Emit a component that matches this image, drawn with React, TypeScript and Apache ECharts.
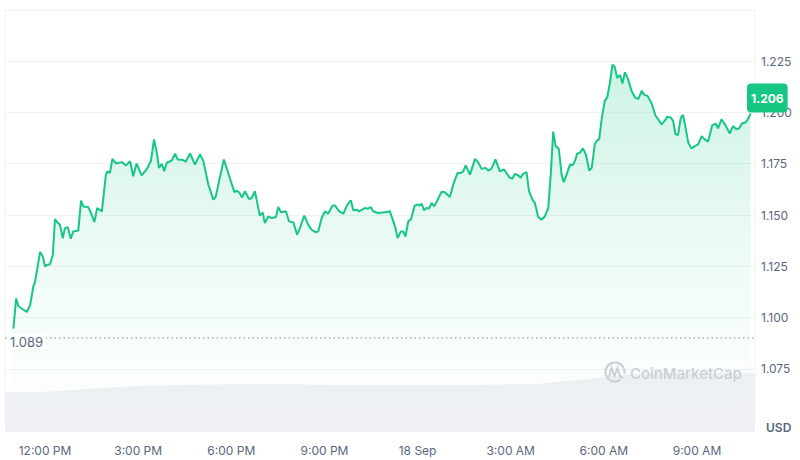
import React, { useEffect, useRef } from "react";
import * as echarts from "echarts";

// hours since 12:00 PM (17 Sep)
const priceHours = [
  -1.02, -0.93, -0.86, -0.59, -0.48, -0.38, -0.32, -0.16, -0.07, 0, 0.05, 0.16, 0.25, 0.32, 0.4, 0.48, 0.57, 0.64, 0.73, 0.83, 0.91, 1.07, 1.16, 1.23, 1.39, 1.47, 1.59, 1.68, 1.83, 1.96, 2.01, 2.09, 2.17, 2.29, 2.47, 2.61,
  2.74, 2.84, 2.95, 3.11, 3.27, 3.41, 3.51, 3.6, 3.67, 3.76, 3.84, 3.92, 4.08, 4.19, 4.27, 4.45, 4.53, 4.67, 4.83, 4.99, 5.1, 5.26, 5.42, 5.5, 5.64, 5.76, 5.9, 6.1, 6.17, 6.25, 6.35, 6.44, 6.57, 6.66, 6.76,
  6.92, 7.01, 7.08, 7.19, 7.3, 7.44, 7.51, 7.6, 7.76, 7.86, 8.0, 8.12, 8.21, 8.35, 8.48, 8.59, 8.72, 8.8, 8.91, 9.02, 9.12, 9.26, 9.34, 9.48, 9.61, 9.72, 9.85, 9.93, 10.04, 10.12, 10.3, 10.41, 10.49, 10.57, 10.73,
  10.95, 11.11, 11.22, 11.29, 11.36, 11.46, 11.54, 11.61, 11.7, 11.79, 11.91, 12.0, 12.08, 12.13, 12.21, 12.29, 12.37, 12.45, 12.54, 12.65, 12.77, 12.88, 13.04, 13.15, 13.29, 13.4, 13.47, 13.55, 13.69, 13.85, 13.95, 14.06, 14.19, 14.28, 14.38, 14.51, 14.65,
  14.79, 14.87, 14.97, 15.06, 15.13, 15.24, 15.32, 15.4, 15.51, 15.59, 15.7, 15.78, 15.88, 15.99, 16.1, 16.21, 16.29, 16.37, 16.45, 16.55, 16.64, 16.71, 16.8, 16.91, 16.99, 17.07, 17.14, 17.23, 17.33, 17.42, 17.53, 17.61, 17.71, 17.78, 17.85, 17.93, 18.03, 18.11, 18.19, 18.28, 18.35, 18.43, 18.52, 18.6, 18.68, 18.78,
  18.89, 19.0, 19.11, 19.22, 19.3, 19.41, 19.54, 19.67, 19.75, 19.86, 19.96, 20.05, 20.16, 20.23, 20.31, 20.39, 20.48, 20.55, 20.63, 20.72, 20.82, 20.93, 21.04, 21.15, 21.25, 21.36, 21.49, 21.6, 21.68, 21.79, 21.9, 22.06, 22.16, 22.27, 22.36, 22.45, 22.56, 22.64, 22.73,
];

const prices = [
  1.0946, 1.1093, 1.1055, 1.1027, 1.106, 1.115, 1.1175, 1.132, 1.1297, 1.1248, 1.1256, 1.126, 1.1305, 1.148, 1.1463, 1.1452, 1.1387, 1.1436, 1.1441, 1.1384, 1.142, 1.1424, 1.157, 1.1542, 1.1539, 1.1513, 1.1466, 1.1534, 1.1517, 1.1697, 1.1713, 1.1705, 1.1774, 1.1751, 1.1758, 1.1742,
  1.1762, 1.1689, 1.1751, 1.1693, 1.1722, 1.1763, 1.1869, 1.1804, 1.173, 1.175, 1.1714, 1.1755, 1.1766, 1.1799, 1.1771, 1.1768, 1.176, 1.18, 1.1746, 1.1796, 1.1763, 1.1649, 1.1575, 1.1591, 1.1689, 1.1771, 1.1705, 1.1611, 1.1619, 1.1611, 1.1586, 1.1616, 1.1578, 1.1583, 1.1616,
  1.1497, 1.1513, 1.1461, 1.1493, 1.1485, 1.149, 1.1539, 1.1513, 1.1518, 1.1469, 1.1464, 1.1404, 1.1436, 1.1497, 1.1452, 1.1428, 1.1415, 1.142, 1.1485, 1.1518, 1.1506, 1.1546, 1.1546, 1.1518, 1.1506, 1.1546, 1.1572, 1.1523, 1.1526, 1.1518, 1.1534, 1.1531, 1.1539, 1.1518, 1.151,
  1.1513, 1.1518, 1.1469, 1.1436, 1.1387, 1.142, 1.142, 1.1395, 1.1469, 1.148, 1.1546, 1.1551, 1.1546, 1.1556, 1.1523, 1.1534, 1.1531, 1.1559, 1.1542, 1.1575, 1.1613, 1.1611, 1.1588, 1.1649, 1.1705, 1.1705, 1.1713, 1.1742, 1.1697, 1.1774, 1.1758, 1.1725, 1.173, 1.1717, 1.1725, 1.1771, 1.1713,
  1.1722, 1.1703, 1.1681, 1.1678, 1.1701, 1.1694, 1.1681, 1.1701, 1.1709, 1.1616, 1.1575, 1.1559, 1.1493, 1.1477, 1.1493, 1.1534, 1.1697, 1.1907, 1.1836, 1.1823, 1.1697, 1.166, 1.1697, 1.1746, 1.1743, 1.1762, 1.1799, 1.1804, 1.1825, 1.1796, 1.1717, 1.173, 1.1845, 1.1864, 1.1869, 1.1967, 1.2057, 1.2074, 1.2139, 1.2233, 1.2223, 1.2168, 1.2184, 1.2141, 1.2196, 1.2163,
  1.2106, 1.2074, 1.2065, 1.2106, 1.2086, 1.2081, 1.2044, 1.1983, 1.1967, 1.1942, 1.1959, 1.198, 1.1975, 1.1959, 1.1894, 1.189, 1.1975, 1.1988, 1.1929, 1.1853, 1.1825, 1.1836, 1.1845, 1.1885, 1.1869, 1.1858, 1.1937, 1.1946, 1.1923, 1.1967, 1.1942, 1.1898, 1.1934, 1.1918, 1.1923, 1.1946, 1.1951, 1.1967, 1.1995,
];

const volumeHours = [-1.29, -0.5, 0.5, 1.5, 2.5, 3.5, 4.5, 6, 8, 9, 10, 11, 12, 13, 14, 15, 16, 16.5, 17.5, 18.5, 19.5, 21, 22.87];
const volumes = [64, 64, 66, 70, 73, 75, 76, 77, 77, 76, 76, 76, 76, 76, 76, 77, 78, 81, 85, 92, 95, 95, 95];

const xTickHours = [0, 3, 6, 9, 12, 15, 18, 21];
const xTickLabels = ["12:00 PM", "3:00 PM", "6:00 PM", "9:00 PM", "18 Sep", "3:00 AM", "6:00 AM", "9:00 AM"];

const openPrice = 1.089;
const currentPrice = 1.206;
const xMin = -1.29;
const xMax = 22.87;

const GREEN = "#16c784";
const LABEL = "#58667e";
const GRID = "#eff2f5";

export default function App() {
  const ref = useRef<HTMLDivElement>(null);

  useEffect(() => {
    if (!ref.current) return;
    const chart = echarts.init(ref.current, undefined, { renderer: "svg" });
    const priceData = priceHours.map((h, i) => [h, prices[i]]);
    const volData = volumeHours.map((h, i) => [h, volumes[i]]);

    chart.setOption({
      animation: false,
      backgroundColor: "#ffffff",
      textStyle: { fontFamily: "Inter, 'Noto Sans', sans-serif" },
      grid: [
        { left: 5, right: 45, top: 10, height: 410, show: true, borderColor: GRID, borderWidth: 1, backgroundColor: "transparent" },
        { left: 5, right: 45, top: 370, bottom: 28 },
      ],
      xAxis: [
        { type: "value", gridIndex: 0, min: xMin, max: xMax, show: false },
        {
          type: "value",
          gridIndex: 1,
          min: xMin,
          max: xMax,
          axisLine: { show: false },
          axisTick: { show: false },
          splitLine: { show: false },
          axisLabel: {
            customValues: xTickHours,
            color: LABEL,
            fontSize: 12,
            margin: 12,
            formatter: (v: number) => {
              const i = xTickHours.indexOf(Math.round(v));
              return i >= 0 ? xTickLabels[i] : "";
            },
          },
        },
      ],
      yAxis: [
        {
          type: "value",
          gridIndex: 0,
          position: "right",
          min: 1.05,
          max: 1.25,
          interval: 0.025,
          axisLine: { show: false },
          axisTick: { show: false },
          splitLine: { lineStyle: { color: GRID, width: 1 } },
          axisLabel: {
            color: LABEL,
            fontSize: 12,
            margin: 6,
            showMinLabel: false,
            showMaxLabel: false,
            formatter: (v: number) => v.toFixed(3),
          },
        },
        { type: "value", gridIndex: 1, min: 0, max: 100, show: false },
      ],
      series: [
        {
          type: "line",
          xAxisIndex: 1,
          yAxisIndex: 1,
          data: volData,
          symbol: "none",
          z: 3,
          lineStyle: { width: 0 },
          areaStyle: { color: "#eff1f4", opacity: 1 },
          silent: true,
        },
        {
          type: "line",
          xAxisIndex: 0,
          yAxisIndex: 0,
          data: priceData,
          symbol: "none",
          z: 4,
          lineStyle: { color: GREEN, width: 2 },
          areaStyle: {
            origin: "start",
            color: new echarts.graphic.LinearGradient(0, 0, 0, 1, [
              { offset: 0, color: "rgba(22,199,132,0.30)" },
              { offset: 0.6, color: "rgba(22,199,132,0.09)" },
              { offset: 1, color: "rgba(22,199,132,0.0)" },
            ]),
          },
          markLine: {
            silent: true,
            symbol: ["none", "none"],
            data: [
              {
                yAxis: openPrice,
                lineStyle: { type: [1.5, 3], color: "#a6b0c3", width: 1.5 },
                label: {
                  position: "insideStartTop",
                  formatter: openPrice.toFixed(3),
                  color: LABEL,
                  fontSize: 13,
                  backgroundColor: "#ffffff",
                  padding: [1, 3, 1, 3],
                  distance: [2, -11],
                },
              },
              {
                yAxis: currentPrice,
                lineStyle: { color: "rgba(0,0,0,0)", width: 0 },
                label: {
                  show: true,
                  position: "end",
                  formatter: currentPrice.toFixed(3),
                  color: "#ffffff",
                  fontSize: 12,
                  fontWeight: "bold",
                  backgroundColor: GREEN,
                  borderRadius: 4,
                  padding: [9, 4, 8, 4],
                  distance: -8,
                  offset: [0, 6],
                },
              },
            ],
          },
        },
      ],
      graphic: [
        {
          type: "arc",
          shape: { cx: 615, cy: 372, r: 9.5, startAngle: Math.PI * 0.3, endAngle: Math.PI * 2.05 },
          style: { stroke: "#c9ced8", lineWidth: 2.2, fill: "none" },
          silent: true,
          z: 10,
        },
        {
          type: "polyline",
          shape: { points: [[609, 377], [611.5, 368], [614.5, 376], [617.5, 368], [620, 376], [623, 378]] },
          style: { stroke: "#c9ced8", lineWidth: 2, fill: "none" },
          silent: true,
          z: 10,
        },
        {
          type: "text",
          x: 630,
          y: 373,
          style: { text: "CoinMarketCap", fill: "#c9ced8", font: "500 15px Inter, sans-serif", verticalAlign: "middle" },
          silent: true,
          z: 10,
        },
        {
          type: "text",
          x: 766,
          y: 427,
          style: { text: "USD", fill: LABEL, font: "600 12px Inter, sans-serif", verticalAlign: "middle" },
          silent: true,
          z: 10,
        },
      ],
    });

    return () => chart.dispose();
  }, []);

  return <div ref={ref} style={{ position: "fixed", left: 0, top: 0, width: 800, height: 460 }} />;
}
